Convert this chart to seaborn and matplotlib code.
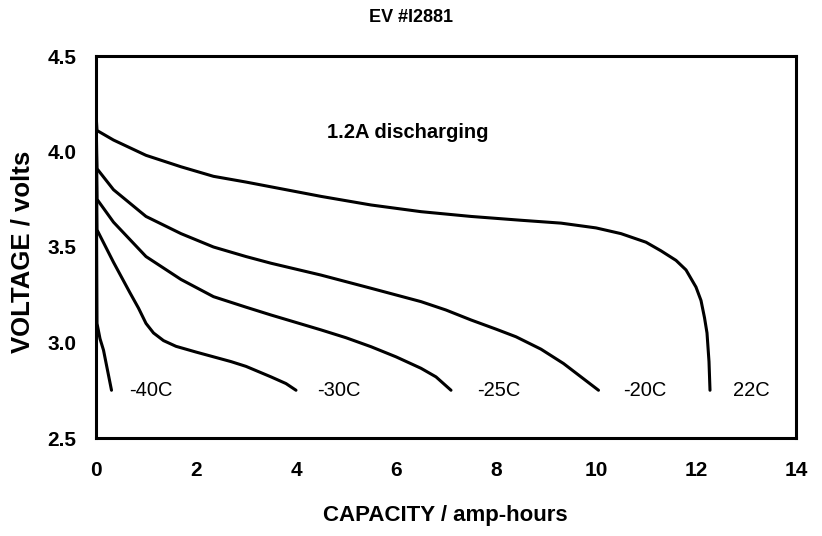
import matplotlib
matplotlib.use("Agg")
import matplotlib.pyplot as plt
import seaborn as sns
import pandas as pd

# ---- data ----
cap_22 = [0.0, 0.02, 0.35, 1.0, 1.7, 2.35, 3.0, 3.5, 4.5, 5.5, 6.5, 7.5, 8.5, 9.3, 10.0, 10.5, 11.0, 11.3, 11.6, 11.8, 12.0, 12.1, 12.17, 12.22, 12.26, 12.28]
v_22 = [4.20, 4.11, 4.06, 3.98, 3.92, 3.87, 3.84, 3.815, 3.765, 3.72, 3.685, 3.66, 3.64, 3.625, 3.60, 3.57, 3.525, 3.48, 3.43, 3.38, 3.29, 3.22, 3.13, 3.05, 2.90, 2.75]

cap_m20 = [0.0, 0.02, 0.35, 1.0, 1.7, 2.35, 3.0, 3.5, 4.5, 5.5, 6.5, 7.0, 7.5, 8.0, 8.4, 8.9, 9.35, 9.7, 10.05]
v_m20 = [4.20, 3.91, 3.80, 3.66, 3.57, 3.50, 3.45, 3.415, 3.353, 3.284, 3.214, 3.17, 3.118, 3.07, 3.03, 2.965, 2.89, 2.82, 2.75]

cap_m25 = [0.0, 0.02, 0.35, 1.0, 1.7, 2.35, 3.0, 3.5, 4.5, 5.0, 5.5, 6.0, 6.5, 6.8, 7.1]
v_m25 = [4.20, 3.75, 3.63, 3.45, 3.33, 3.24, 3.185, 3.144, 3.066, 3.025, 2.978, 2.925, 2.865, 2.82, 2.75]

cap_m30 = [0.0, 0.02, 0.35, 0.68, 0.85, 1.0, 1.15, 1.35, 1.6, 2.0, 2.7, 3.0, 3.5, 3.8, 4.0]
v_m30 = [4.20, 3.59, 3.42, 3.26, 3.18, 3.10, 3.05, 3.01, 2.98, 2.95, 2.90, 2.875, 2.82, 2.785, 2.75]

cap_m40 = [0.0, 0.02, 0.08, 0.15, 0.31]
v_m40 = [4.20, 3.10, 3.02, 2.96, 2.75]

series_names = ["22C", "-20C", "-25C", "-30C", "-40C"]
label_x = [12.74, 10.54, 7.62, 4.42, 0.66]
label_y = 2.75

x_ticks = [0, 2, 4, 6, 8, 10, 12, 14]
y_ticks = [2.5, 3.0, 3.5, 4.0, 4.5]
y_tick_labels = ["2.5", "3.0", "3.5", "4.0", "4.5"]

title = "EV #I2881"
note = "1.2A discharging"
xlabel = "CAPACITY / amp-hours"
ylabel = "VOLTAGE / volts"

caps = [cap_22, cap_m20, cap_m25, cap_m30, cap_m40]
volts = [v_22, v_m20, v_m25, v_m30, v_m40]
frames = []
for name, c, v in zip(series_names, caps, volts):
    frames.append(pd.DataFrame({"cap": c, "volt": v, "temp": name}))
df = pd.concat(frames, ignore_index=True)

# ---- style ----
sns.set_style("white")
plt.rcParams["font.family"] = ["Liberation Sans", "DejaVu Sans"]

fig = plt.figure(figsize=(8.22, 5.36), dpi=100)
ax = fig.add_axes([96 / 822, 1 - 438 / 536, 700 / 822, 382 / 536])

sns.lineplot(data=df, x="cap", y="volt", hue="temp", units="temp", estimator=None,
             sort=False, palette=["black"] * 5, linewidth=2.2, legend=False, ax=ax)

ax.set_xlim(0, 14)
ax.set_ylim(2.5, 4.5)
ax.set_xticks(x_ticks)
ax.set_xticklabels([str(t) for t in x_ticks])
ax.set_yticks(y_ticks)
ax.set_yticklabels(y_tick_labels)

for sp in ax.spines.values():
    sp.set_visible(True)
    sp.set_color("black")
    sp.set_linewidth(2.2)

ax.tick_params(axis="both", which="major", direction="out", length=6, width=1.5,
               color="black", labelsize=15, labelcolor="black")
ax.tick_params(axis="y", pad=8)
ax.tick_params(axis="x", pad=10.5)
for lab in ax.get_xticklabels() + ax.get_yticklabels():
    lab.set_fontweight("bold")

ax.set_xlabel(xlabel, fontsize=16, fontweight="bold", color="black")
ax.set_ylabel(ylabel, fontsize=18.5, fontweight="bold", color="black")
ax.xaxis.set_label_coords(0.4986, -0.175)
ax.yaxis.set_label_coords(-0.088, 0.487)

for name, lx in zip(series_names, label_x):
    ax.text(lx, label_y, name, ha="left", va="center", fontsize=14.5, color="black")

ax.text(6.24, 4.10, note, ha="center", va="center", fontsize=14.5, fontweight="bold", color="black")
fig.text(0.5, 1 - 18 / 536, title, ha="center", va="center", fontsize=13,
         fontweight="bold", color="black")

fig.savefig("out.png", dpi=100)
